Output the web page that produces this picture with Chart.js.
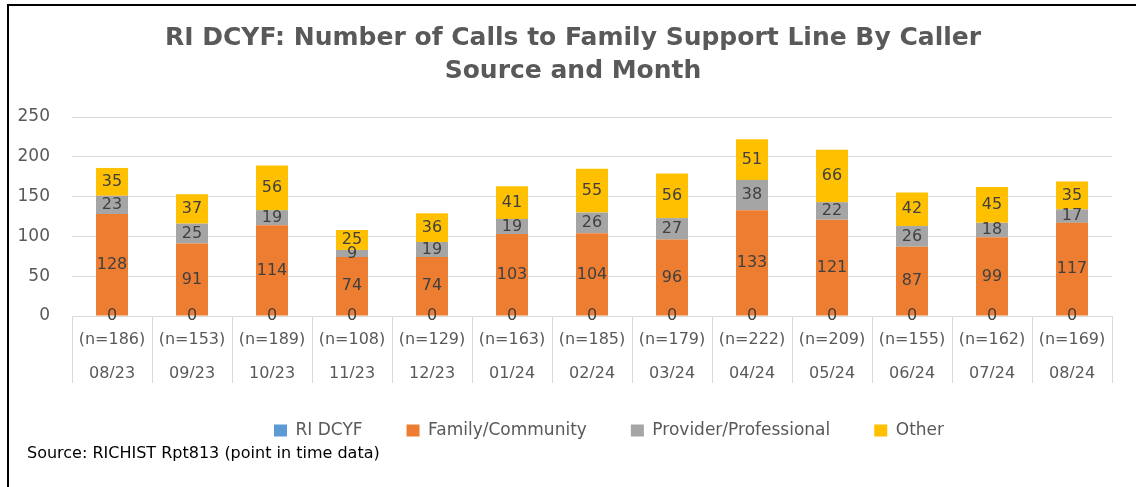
<!DOCTYPE html>
<html>
<head>
<meta charset="utf-8">
<script src="https://cdn.jsdelivr.net/npm/chart.js@4"></script>
<style>
  body { margin: 0; background: #fff; }
  #wrap { position: relative; width: 1136px; height: 487px; }
</style>
</head>
<body>
<div id="wrap"><canvas id="chart"></canvas></div>
<script>
const months = ['08/23', '09/23', '10/23', '11/23', '12/23', '01/24', '02/24', '03/24', '04/24', '05/24', '06/24', '07/24', '08/24'];
const totals = [186, 153, 189, 108, 129, 163, 185, 179, 222, 209, 155, 162, 169];
const riDcyf = [0, 0, 0, 0, 0, 0, 0, 0, 0, 0, 0, 0, 0];
const family = [128, 91, 114, 74, 74, 103, 104, 96, 133, 121, 87, 99, 117];
const provider = [23, 25, 19, 9, 19, 19, 26, 27, 38, 22, 26, 18, 17];
const other = [35, 37, 56, 25, 36, 41, 55, 56, 51, 66, 42, 45, 35];
const yTicks = [0, 50, 100, 150, 200, 250];

const FONT = 'DejaVu Sans';
const GREY = '#595959';

// value labels centred in each stacked segment
const valueLabels = {
  id: 'valueLabels',
  afterDatasetsDraw(chart) {
    const ctx = chart.ctx;
    ctx.save();
    ctx.font = '16px ' + FONT;
    ctx.fillStyle = '#404040';
    ctx.textAlign = 'center';
    ctx.textBaseline = 'middle';
    chart.data.datasets.forEach((ds, i) => {
      const meta = chart.getDatasetMeta(i);
      meta.data.forEach((bar, j) => {
        const y = (bar.y + bar.base) / 2;
        ctx.fillText(String(ds.data[j]), bar.x, y);
      });
    });
    ctx.restore();
  }
};

// category separators under the axis, frame and source note
const extras = {
  id: 'extras',
  afterLayout(chart) {
    // title and legend sit a bit right of centre in the original
    chart.titleBlock.left += 12;
    chart.titleBlock.right += 12;
    chart.legend.left += 48;
    chart.legend.right += 48;
  },
  afterDraw(chart) {
    const ctx = chart.ctx;
    const xs = chart.scales.x;
    const area = chart.chartArea;
    const n = months.length;
    ctx.save();
    ctx.strokeStyle = '#d9d9d9';
    ctx.lineWidth = 1;
    for (let i = 0; i <= n; i++) {
      const x = Math.round(xs.left + i * xs.width / n) + 0.5;
      ctx.beginPath();
      ctx.moveTo(x, area.bottom);
      ctx.lineTo(x, area.bottom + 67);
      ctx.stroke();
    }
    ctx.strokeStyle = '#000';
    ctx.lineWidth = 2;
    ctx.beginPath();
    ctx.moveTo(8, chart.height);
    ctx.lineTo(8, 5);
    ctx.lineTo(chart.width, 5);
    ctx.stroke();
    ctx.font = '16px ' + FONT;
    ctx.fillStyle = '#000';
    ctx.textBaseline = 'middle';
    ctx.fillText('Source: RICHIST Rpt813 (point in time data)', 27, 454);
    ctx.restore();
  }
};

const mk = (label, data, color) => ({
  label, data, backgroundColor: color, borderWidth: 0
});

new Chart(document.getElementById('chart'), {
  type: 'bar',
  data: {
    labels: months.map((m, i) => ['(n=' + totals[i] + ')', m]),
    datasets: [
      mk('RI DCYF', riDcyf, '#5B9BD5'),
      mk('Family/Community', family, '#ED7D31'),
      mk('Provider/Professional', provider, '#A5A5A5'),
      mk('Other', other, '#FFC000')
    ]
  },
  options: {
    responsive: true,
    maintainAspectRatio: false,
    animation: false,
    categoryPercentage: 0.8,
    barPercentage: 0.5,
    layout: { padding: { left: 10, right: 24, top: 4, bottom: 38 } },
    scales: {
      x: {
        stacked: true,
        grid: { display: false },
        border: { display: false },
        ticks: {
          color: GREY,
          font: { family: FONT, size: 16, lineHeight: 2.1 },
          padding: -1,
          maxRotation: 0
        },
        afterFit(scale) { scale.height = 62; }
      },
      y: {
        stacked: true,
        min: 0,
        max: 250,
        afterBuildTicks(scale) { scale.ticks = yTicks.map(v => ({ value: v })); },
        grid: { color: '#d9d9d9', drawTicks: false },
        border: { display: false },
        ticks: {
          color: GREY,
          font: { family: FONT, size: 17 },
          padding: 22
        },
        afterFit(scale) { scale.width = 62; }
      }
    },
    plugins: {
      title: {
        display: true,
        text: ['RI DCYF: Number of Calls to Family Support Line By Caller', 'Source and Month'],
        color: GREY,
        font: { family: FONT, size: 25, weight: 'bold', lineHeight: 1.32 },
        padding: { top: 18, bottom: 29 }
      },
      legend: {
        position: 'bottom',
        labels: {
          color: GREY,
          font: { family: FONT, size: 17 },
          boxWidth: 13,
          boxHeight: 12,
          padding: 44
        }
      },
      tooltip: { enabled: false }
    }
  },
  plugins: [valueLabels, extras]
});
</script>
</body>
</html>
